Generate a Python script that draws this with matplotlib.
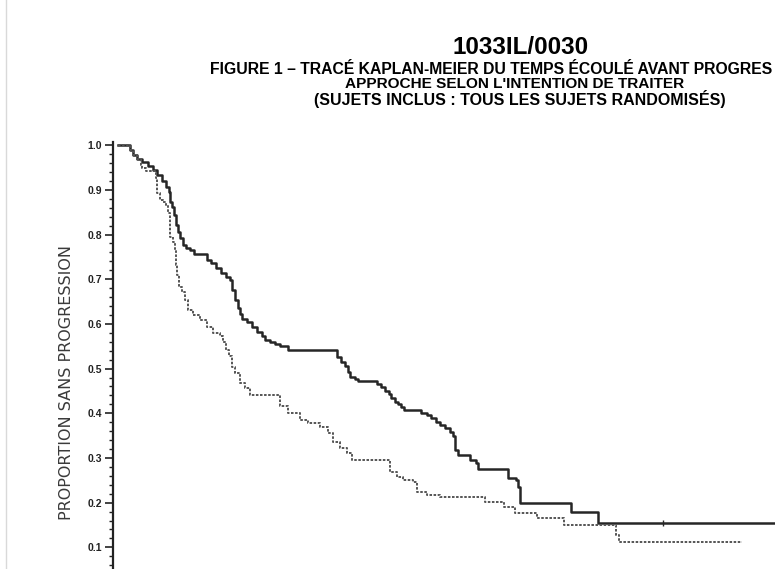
import matplotlib
matplotlib.use("Agg")
import matplotlib.pyplot as plt
from matplotlib.lines import Line2D
import numpy as np

# Temps (mois) et proportion sans progression - bras trait plein
temps_a = [0.00, 0.60, 0.75, 0.95, 1.20, 1.50, 1.75, 1.95, 2.20, 2.40, 2.55, 2.60, 2.70,
           2.80, 2.90, 3.00, 3.10, 3.25, 3.40, 3.60, 3.80, 4.45, 4.65, 4.90, 5.15, 5.40,
           5.60, 5.70, 5.85, 6.00, 6.10, 6.20, 6.45, 6.70, 6.95, 7.20, 7.35, 7.60, 7.85,
           8.10, 8.50, 10.95, 11.15, 11.35, 11.50, 11.60, 11.85, 12.00, 12.95, 13.15,
           13.35, 13.55, 13.65, 13.85, 14.00, 14.15, 14.30, 15.15, 15.45, 15.65, 15.90,
           16.10, 16.35, 16.60, 16.75, 16.85, 17.00, 17.60, 17.90, 18.00, 19.50, 19.90,
           20.00, 20.10, 22.65, 24.00, 34.00]
surv_a = [1.000, 0.989, 0.978, 0.969, 0.962, 0.953, 0.944, 0.933, 0.919, 0.906, 0.895,
          0.872, 0.861, 0.843, 0.821, 0.805, 0.792, 0.776, 0.770, 0.765, 0.756, 0.743,
          0.736, 0.725, 0.714, 0.705, 0.698, 0.676, 0.653, 0.635, 0.622, 0.611, 0.604,
          0.593, 0.582, 0.573, 0.564, 0.559, 0.555, 0.550, 0.541, 0.526, 0.515, 0.506,
          0.492, 0.481, 0.477, 0.472, 0.465, 0.459, 0.450, 0.443, 0.434, 0.425, 0.421,
          0.414, 0.407, 0.400, 0.396, 0.389, 0.380, 0.374, 0.367, 0.358, 0.349, 0.318,
          0.306, 0.295, 0.289, 0.275, 0.255, 0.251, 0.235, 0.199, 0.179, 0.154, 0.154]
censure_a = [27.25]

# Bras en pointillés
temps_b = [0.00, 0.60, 0.75, 0.95, 1.15, 1.20, 1.40, 1.85, 1.90, 1.95, 2.10, 2.25, 2.40,
           2.50, 2.60, 2.75, 2.85, 2.90, 2.95, 3.05, 3.20, 3.35, 3.50, 3.75, 4.10, 4.45,
           4.75, 5.10, 5.25, 5.40, 5.55, 5.70, 5.85, 6.10, 6.35, 6.60, 8.10, 8.50, 9.10,
           9.50, 10.10, 10.50, 10.75, 11.10, 11.45, 11.70, 13.60, 13.95, 14.25, 14.75,
           14.95, 15.45, 16.10, 18.35, 19.30, 19.85, 20.95, 22.30, 24.90, 25.05, 31.20]
surv_b = [1.000, 0.989, 0.978, 0.969, 0.955, 0.948, 0.942, 0.937, 0.926, 0.893, 0.878,
          0.873, 0.866, 0.848, 0.794, 0.783, 0.765, 0.732, 0.709, 0.682, 0.671, 0.653,
          0.631, 0.620, 0.609, 0.593, 0.580, 0.573, 0.559, 0.541, 0.528, 0.503, 0.490,
          0.468, 0.456, 0.441, 0.416, 0.400, 0.385, 0.378, 0.369, 0.356, 0.336, 0.322,
          0.311, 0.295, 0.268, 0.257, 0.251, 0.246, 0.224, 0.217, 0.213, 0.201, 0.190,
          0.177, 0.166, 0.150, 0.128, 0.112, 0.112]

yticks = [0.1, 0.2, 0.3, 0.4, 0.5, 0.6, 0.7, 0.8, 0.9, 1.0]
ytick_labels = ["0.1", "0.2", "0.3", "0.4", "0.5", "0.6", "0.7", "0.8", "0.9", "1.0"]

W, H = 775, 569
fig = plt.figure(figsize=(W / 100, H / 100), dpi=100)
fig.patch.set_facecolor("white")

# axes: spine gauche a x=113 px, y=1.0 a 145 px, y=0 a 592 px (hors image)
ax = fig.add_axes([113 / W, (H - 592) / H, 700 / W, (592 - 142) / H])
ax.set_xlim(-0.25, 34.75)
ax.set_ylim(0, 1.007)

ax.step(temps_a, surv_a, where="post", color="#262626", lw=1.8)
ax.step(temps_b, surv_b, where="post", color="#555555", lw=1.4,
        linestyle=(0, (1.3, 0.8)))
ax.plot(censure_a, [surv_a[-1]] * len(censure_a), linestyle="none", marker="|",
        color="#262626", markersize=4, markeredgewidth=1)

for s in ["top", "right", "bottom"]:
    ax.spines[s].set_visible(False)
ax.spines["left"].set_linewidth(1.6)
ax.spines["left"].set_color("#222222")
ax.set_xticks([])
ax.set_yticks(yticks)
ax.set_yticklabels(ytick_labels, fontsize=7.5, fontweight="bold", color="#222222",
                   family="Liberation Sans")
ax.set_yticks(np.arange(0.02, 1.0, 0.02), minor=True)
ax.tick_params(axis="y", which="major", direction="out", length=6, width=1.2, pad=2,
               color="#222222")
ax.tick_params(axis="y", which="minor", direction="out", length=3, width=1,
               color="#222222")

fig.text(67 / W, 1 - 383 / H, "PROPORTION SANS PROGRESSION", rotation=90,
         ha="center", va="center", fontsize=11.5, color="#3a3a3a",
         family="DejaVu Sans")

fig.text(521 / W, 1 - 48 / H, "1033IL/0030", ha="center", va="center",
         fontsize=17.5, fontweight="bold", family="Liberation Sans")
fig.text(210 / W, 1 - 69 / H,
         "FIGURE 1 \u2013 TRAC\u00c9 KAPLAN-MEIER DU TEMPS \u00c9COUL\u00c9 AVANT PROGRES",
         ha="left", va="center", fontsize=11.3, fontweight="bold", family="Liberation Sans")
fig.text(515 / W, 1 - 84 / H, "APPROCHE SELON L'INTENTION DE TRAITER",
         ha="center", va="center", fontsize=11.1, fontweight="bold", family="Liberation Sans")
fig.text(520 / W, 1 - 99 / H, "(SUJETS INCLUS : TOUS LES SUJETS RANDOMIS\u00c9S)",
         ha="center", va="center", fontsize=11.5, fontweight="bold", family="Liberation Sans")

fig.add_artist(Line2D([6 / W, 6 / W], [0, 1], color="#d9d9d9", lw=1))

fig.savefig("out.png", dpi=100)
